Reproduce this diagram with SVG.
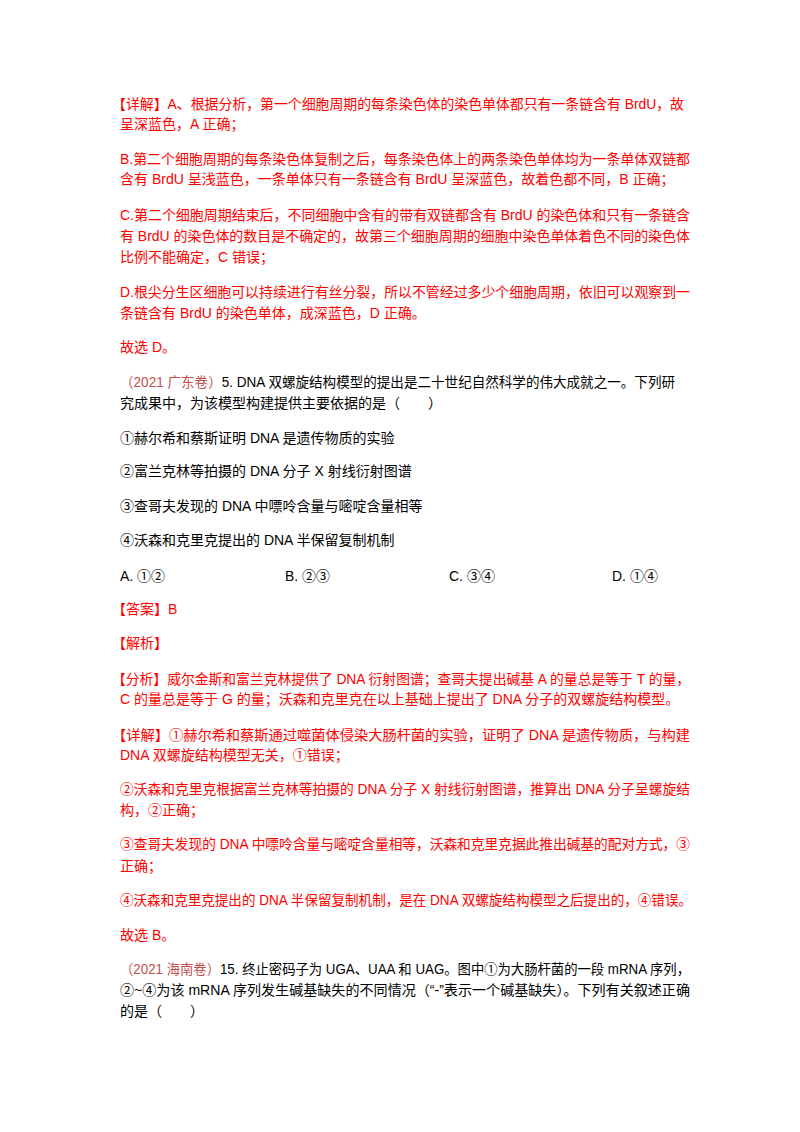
<svg xmlns="http://www.w3.org/2000/svg" width="800" height="1132" viewBox="0 0 800 1132">
<style>
text{font-family:"Liberation Sans","Noto Sans CJK SC",sans-serif;font-size:14px;dominant-baseline:central}
.r{fill:#ff0000}.k{fill:#000}.o{fill:#c0504d}
</style>
<rect width="800" height="1132" fill="#fff"/>
<g class="r">
<text x="112" y="104" textLength="572" lengthAdjust="spacingAndGlyphs">【详解】A、根据分析，第一个细胞周期的每条染色体的染色单体都只有一条链含有  BrdU，故</text>
<text x="120" y="124">呈深蓝色，A 正确；</text>
<text x="120" y="159" textLength="570" lengthAdjust="spacingAndGlyphs">B.第二个细胞周期的每条染色体复制之后，每条染色体上的两条染色单体均为一条单体双链都</text>
<text x="120" y="179">含有  BrdU 呈浅蓝色，一条单体只有一条链含有  BrdU 呈深蓝色，故着色都不同，B 正确；</text>
<text x="120" y="215" textLength="570" lengthAdjust="spacingAndGlyphs">C.第二个细胞周期结束后，不同细胞中含有的带有双链都含有  BrdU 的染色体和只有一条链含</text>
<text x="120" y="236" textLength="570" lengthAdjust="spacingAndGlyphs">有  BrdU  的染色体的数目是不确定的，故第三个细胞周期的细胞中染色单体着色不同的染色体</text>
<text x="120" y="257">比例不能确定，C 错误；</text>
<text x="120" y="292" textLength="570" lengthAdjust="spacingAndGlyphs">D.根尖分生区细胞可以持续进行有丝分裂，所以不管经过多少个细胞周期，依旧可以观察到一</text>
<text x="120" y="313">条链含有 BrdU 的染色单体，成深蓝色，D 正确。</text>
<text x="120" y="347">故选 D。</text>
</g>
<text x="120" y="382" textLength="555" lengthAdjust="spacingAndGlyphs"><tspan class="o">（2021 广东卷）</tspan><tspan class="k">5. DNA 双螺旋结构模型的提出是二十世纪自然科学的伟大成就之一。下列研</tspan></text>
<g class="k">
<text x="120" y="403">究成果中，为该模型构建提供主要依据的是（　　）</text>
<text x="120" y="438">①赫尔希和蔡斯证明 DNA 是遗传物质的实验</text>
<text x="120" y="471">②富兰克林等拍摄的 DNA 分子 X 射线衍射图谱</text>
<text x="120" y="506">③查哥夫发现的 DNA 中嘌呤含量与嘧啶含量相等</text>
<text x="120" y="540">④沃森和克里克提出的 DNA 半保留复制机制</text>
<text x="120" y="576">A. ①②</text>
<text x="285" y="576">B. ②③</text>
<text x="449" y="576">C. ③④</text>
<text x="612" y="576">D. ①④</text>
</g>
<g class="r">
<text x="112" y="609">【答案】B</text>
<text x="112" y="643">【解析】</text>
<text x="112" y="679" textLength="578" lengthAdjust="spacingAndGlyphs">【分析】威尔金斯和富兰克林提供了 DNA 衍射图谱；查哥夫提出碱基 A 的量总是等于 T 的量，</text>
<text x="120" y="699">C 的量总是等于 G 的量；沃森和克里克在以上基础上提出了 DNA 分子的双螺旋结构模型。</text>
<text x="112" y="735" textLength="578" lengthAdjust="spacingAndGlyphs">【详解】①赫尔希和蔡斯通过噬菌体侵染大肠杆菌的实验，证明了 DNA 是遗传物质，与构建</text>
<text x="120" y="755">DNA 双螺旋结构模型无关，①错误；</text>
<text x="120" y="789" textLength="570" lengthAdjust="spacingAndGlyphs">②沃森和克里克根据富兰克林等拍摄的 DNA 分子 X 射线衍射图谱，推算出 DNA 分子呈螺旋结</text>
<text x="120" y="810">构，②正确；</text>
<text x="120" y="844" textLength="570" lengthAdjust="spacingAndGlyphs">③查哥夫发现的 DNA 中嘌呤含量与嘧啶含量相等，沃森和克里克据此推出碱基的配对方式，③</text>
<text x="120" y="866">正确；</text>
<text x="120" y="900" textLength="572" lengthAdjust="spacingAndGlyphs">④沃森和克里克提出的 DNA 半保留复制机制，是在 DNA 双螺旋结构模型之后提出的，④错误。</text>
<text x="120" y="935">故选 B。</text>
</g>
<text x="120" y="969" textLength="570" lengthAdjust="spacingAndGlyphs"><tspan class="o">（2021 海南卷）</tspan><tspan class="k">15. 终止密码子为 UGA、UAA 和 UAG。图中①为大肠杆菌的一段 mRNA 序列，</tspan></text>
<g class="k">
<text x="120" y="990" textLength="570" lengthAdjust="spacingAndGlyphs">②~④为该 mRNA 序列发生碱基缺失的不同情况（“-”表示一个碱基缺失）。下列有关叙述正确</text>
<text x="120" y="1011">的是（　　）</text>
</g>
</svg>
